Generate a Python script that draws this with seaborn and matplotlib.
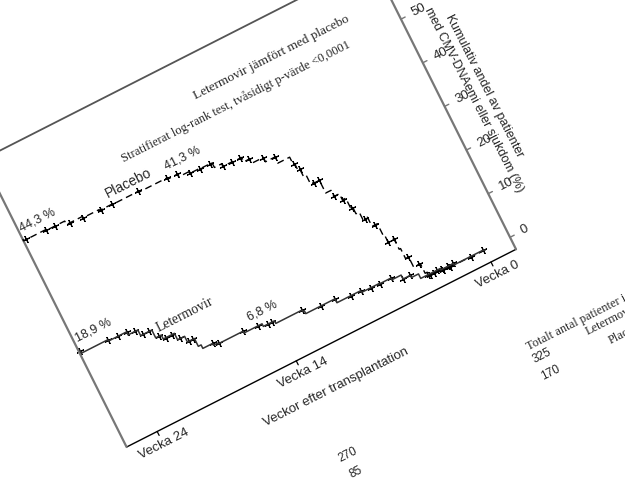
import numpy as np
import matplotlib
matplotlib.use("Agg")
import matplotlib.pyplot as plt
from matplotlib.transforms import Affine2D
import seaborn as sns

# ---------------- data (weeks after transplantation, cumulative %) ----------------
placebo_weeks = [0.0, 1.0, 2.0, 3.0, 3.6, 3.95, 4.1, 4.58, 4.8, 4.9, 5.33, 5.42, 5.8, 6.13,
                 6.36, 6.5, 6.74, 7.12, 7.5, 7.97, 8.11, 8.3, 8.44, 8.54, 9.39, 10.06, 10.87,
                 11.3, 12.04, 12.63, 13.15, 14.1, 14.75, 15.45, 16.16, 18.16, 20.08, 20.98,
                 22.13, 23.27, 24.66, 26.19]
placebo_pct = [0.0, 0.1, 0.2, 0.35, 0.5, 1.3, 3.5, 5.8, 8.1, 10.5, 12.4, 14.8, 16.9, 18.6,
               20.1, 22.4, 23.8, 25.2, 28.1, 28.3, 30.2, 32.1, 33.4, 35.1, 36.5, 37.5, 38.5,
               39.5, 39.6, 40.2, 41.3, 41.4, 41.8, 42.4, 42.7, 42.9, 43.0, 43.2,
               43.5, 44.3, 44.5, 44.9]

leter_weeks = [0.0, 0.1, 2.2, 3.1, 4.5, 5.0, 5.53, 6.2, 7.06, 8.3, 10.0, 12.1, 12.2, 14.1,
               14.9, 16.2, 18.0, 18.3, 19.0, 19.2, 19.7, 20.2, 21.0, 21.4, 22.2, 22.9, 24.2, 26.1]
leter_pct = [0.0, 0.15, 0.47, 0.77, 1.8, 2.3, 3.2, 3.6, 3.7, 4.1, 5.0, 5.65, 6.0, 6.6,
             7.2, 7.6, 7.8, 8.2, 9.0, 10.8, 12.1, 13.6, 14.5, 16.3, 17.6, 18.3, 18.6, 19.2]

placebo_censor_weeks = [1.0, 2.5, 3.0, 3.6, 3.9, 4.2, 4.6, 4.9, 5.3, 5.6, 6.0, 6.4, 6.7, 7.1,
                        7.5, 7.9, 8.3, 8.5, 9.4, 10.1, 10.9, 11.4, 12.0, 12.6, 13.3, 14.0,
                        14.7, 15.5, 16.2, 18.2, 20.1, 20.9, 22.1, 23.0, 24.0, 24.6, 26.0]
leter_censor_weeks = [0.1, 2.2, 2.6, 3.0, 3.3, 4.0, 5.0, 5.5, 6.2, 7.0, 7.6, 8.3, 9.0, 10.0,
                      11.0, 12.2, 14.3, 14.6, 15.2, 16.2, 17.9, 18.3, 19.3, 19.6, 20.0, 20.4,
                      20.8, 21.2, 21.6, 22.0, 22.4, 22.9, 23.5, 24.2, 26.1]

xtick_weeks = [0, 14, 24]
xtick_labels = ["Vecka 0", "Vecka 14", "Vecka 24"]
ytick_values = [0, 10, 20, 30, 40, 50]

risk_weeks = [0, 14]
risk_letermovir = [325, 270]
risk_placebo = [170, 85]

# ---------------- geometry of the (mirrored, rotated) chart ----------------
XMIN, XMAX = -1.8, 26.2      # weeks
YMIN, YMAX = -2.75, 63.2     # percent
X0, Y0 = 485.0, 250.0        # pixel position of (week 0, 0 %)
PX_WEEK, PX_PCT = 15.6, 4.88
ux, uy = -0.8916, 0.4527
vx, vy = -0.447, -0.894
ROT = 26.9
YROT = -63.1

sns.set_theme(style="white")
plt.rcParams['font.family'] = ['Liberation Sans', 'DejaVu Sans']
SERIF = ['Liberation Serif', 'DejaVu Serif']

fig = plt.figure(figsize=(6.25, 5.01), dpi=100)
fig.patch.set_facecolor("white")
ax = fig.add_axes([0, 0, 1, 1])
ax.axis("off")

chart = Affine2D(np.array([[PX_WEEK * ux, PX_PCT * vx, X0],
                           [PX_WEEK * uy, PX_PCT * vy, Y0],
                           [0.0, 0.0, 1.0]]))
tr = chart + ax.transData

# frame
frame_grey = "#777777"
ax.plot([XMIN, XMAX], [YMIN, YMIN], transform=tr, color="black", lw=1.0)
ax.plot([XMIN, XMIN], [YMIN, YMAX], transform=tr, color=frame_grey, lw=1.6)
ax.plot([XMAX, XMAX], [YMIN, YMAX], transform=tr, color=frame_grey, lw=1.6)
ax.plot([XMIN, XMAX], [YMAX, YMAX], transform=tr, color="#555555", lw=1.3)

# ticks
for w in xtick_weeks:
    ax.plot([w, w], [YMIN, YMIN - 0.9], transform=tr, color="black", lw=0.9)
for v in ytick_values:
    ax.plot([XMIN, XMIN - 0.3], [v, v], transform=tr, color=frame_grey, lw=1.0)

# curves
sns.lineplot(x=placebo_weeks, y=placebo_pct, ax=ax, transform=tr, drawstyle="steps-post",
             color="black", lw=1.0, linestyle=(0, (5, 3)), estimator=None, sort=False)
sns.lineplot(x=leter_weeks, y=leter_pct, ax=ax, transform=tr, drawstyle="steps-post",
             color="#333333", lw=1.1, estimator=None, sort=False)


def step_at(ws, xs, ys):
    xs = np.asarray(xs)
    ys = np.asarray(ys)
    idx = np.searchsorted(xs, ws, side="right") - 1
    return ys[np.clip(idx, 0, len(ys) - 1)]


pc = step_at(placebo_censor_weeks, placebo_weeks, placebo_pct)
lc = step_at(leter_censor_weeks, leter_weeks, leter_pct)
sns.scatterplot(x=placebo_censor_weeks, y=pc, ax=ax, transform=tr, marker=(4, 2, 27),
                s=24, color="black", linewidth=0.8)
sns.scatterplot(x=leter_censor_weeks, y=lc, ax=ax, transform=tr, marker=(4, 2, 27),
                s=24, color="black", linewidth=0.8)

ax.set_xlim(0, 625)
ax.set_ylim(501, 0)

# tick labels
for w, lab in zip(xtick_weeks, xtick_labels):
    ax.text(w, -5.6, lab, transform=tr, rotation=ROT, rotation_mode="anchor",
            ha="center", va="center", fontsize=9.5)
for v in ytick_values:
    ax.text(XMIN - 0.83, v, str(v), transform=tr, rotation=ROT, rotation_mode="anchor",
            ha="left", va="center", fontsize=9.5)

# axis labels
ax.text(12.5, -11.3, "Veckor efter transplantation", transform=tr, rotation=ROT,
        rotation_mode="anchor", ha="center", va="center", fontsize=9.5)
ax.text(-4.65, 30.0, "Kumulativ andel av patienter", transform=tr, rotation=YROT,
        rotation_mode="anchor", ha="center", va="center", fontsize=9)
ax.text(-3.66, 28.6, "med CMV-DNAemi eller sjukdom (%)", transform=tr, rotation=YROT,
        rotation_mode="anchor", ha="center", va="center", fontsize=9)

# annotations
ax.text(6.74, 55.0, "Letermovir jämfört med placebo", transform=tr, rotation=ROT,
        rotation_mode="anchor", ha="center", va="center", fontsize=9.5, family=SERIF)
ax.text(10.0, 50.3, "Stratifierat log-rank test, tvåsidigt p-värde <0,0001", transform=tr,
        rotation=ROT, rotation_mode="anchor", ha="center", va="center", fontsize=9,
        family=SERIF)

ax.text(18.5, 45.4, "Placebo", transform=tr, rotation=ROT, rotation_mode="anchor",
        ha="center", va="center", fontsize=10)
ax.text(19.1, 16.0, "Letermovir", transform=tr, rotation=ROT, rotation_mode="anchor",
        ha="center", va="center", fontsize=10, family=SERIF)
ax.text(14.7, 44.9, "41,3 %", transform=tr, rotation=ROT, rotation_mode="anchor",
        ha="center", va="center", fontsize=9)
ax.text(24.8, 46.9, "44,3 %", transform=tr, rotation=ROT, rotation_mode="anchor",
        ha="center", va="center", fontsize=9)
ax.text(14.5, 9.5, "6,8 %", transform=tr, rotation=ROT, rotation_mode="anchor",
        ha="center", va="center", fontsize=9)
ax.text(24.75, 21.7, "18,9 %", transform=tr, rotation=ROT, rotation_mode="anchor",
        ha="center", va="center", fontsize=9)

# numbers at risk
ax.text(0.36, -21.7, "Totalt antal patienter i riskzon", transform=tr, rotation=ROT,
        rotation_mode="anchor", ha="left", va="center", fontsize=9, family=SERIF)
ax.text(-3.45, -24.4, "Letermovir", transform=tr, rotation=ROT, rotation_mode="anchor",
        ha="left", va="center", fontsize=9, family=SERIF)
ax.text(-4.5, -28.3, "Placebo", transform=tr, rotation=ROT, rotation_mode="anchor",
        ha="left", va="center", fontsize=9, family=SERIF)
for w, a, b in zip(risk_weeks, risk_letermovir, risk_placebo):
    ax.text(w - 0.25, -24.6, str(a), transform=tr, rotation=ROT, rotation_mode="anchor",
            ha="center", va="center", fontsize=8.5)
    ax.text(w - 0.25, -28.6, str(b), transform=tr, rotation=ROT, rotation_mode="anchor",
            ha="center", va="center", fontsize=8.5)

fig.savefig("out.png", dpi=100, facecolor="white")
